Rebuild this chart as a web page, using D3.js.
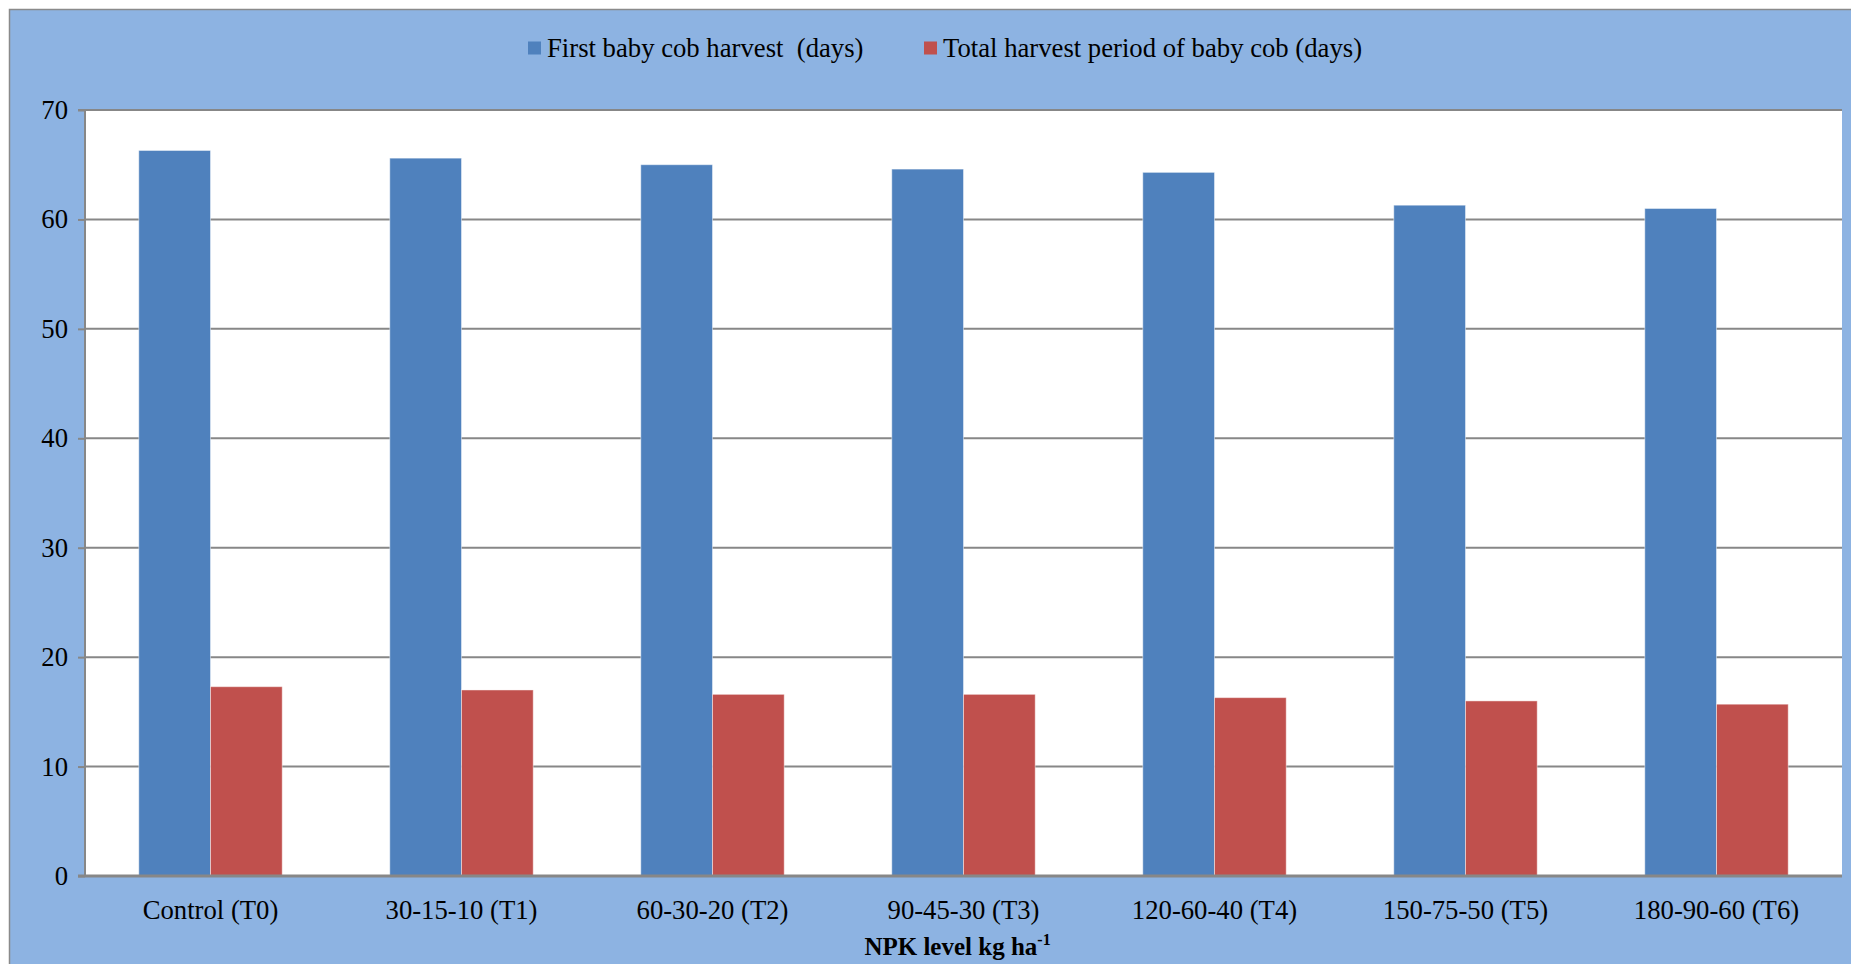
<!DOCTYPE html>
<html>
<head>
<meta charset="utf-8">
<script src="https://cdn.jsdelivr.net/npm/d3@7"></script>
<style>
  html, body { margin: 0; padding: 0; background: #ffffff; }
  svg { display: block; }
  text { font-family: "Liberation Serif", "Times New Roman", serif !important; fill: #000; }
</style>
</head>
<body>
<svg id="chart" width="1851" height="964"></svg>
<script>
// NPK treatment levels (kg/ha)
const categories = [
  "Control (T0)", "30-15-10 (T1)", "60-30-20 (T2)", "90-45-30 (T3)",
  "120-60-40 (T4)", "150-75-50 (T5)", "180-90-60 (T6)"
];
const seriesNames = [
  "First baby cob harvest  (days)",
  "Total harvest period of baby cob (days)"
];
const firstHarvest = [66.3, 65.6, 65.0, 64.6, 64.3, 61.3, 61.0];
const totalHarvestPeriod = [17.3, 17.0, 16.6, 16.6, 16.3, 16.0, 15.7];
const yTicks = [0, 10, 20, 30, 40, 50, 60, 70];

const colors = ["#4F81BD", "#C0504D"];
const series = [firstHarvest, totalHarvestPeriod];

const svg = d3.select("#chart");
const W = 1851, H = 964;
const plot = { left: 85, right: 1842, top: 110, bottom: 876 };
const labelSize = 26.7;

// Chart area background with border
svg.append("rect")
  .attr("x", 9.5).attr("y", 9.5)
  .attr("width", W).attr("height", H)
  .attr("fill", "#8DB3E2")
  .attr("stroke", "#8a8a8a").attr("stroke-width", 1.5);

// Plot area
svg.append("rect")
  .attr("x", plot.left).attr("y", plot.top)
  .attr("width", plot.right - plot.left).attr("height", plot.bottom - plot.top)
  .attr("fill", "#ffffff");

const x = d3.scaleBand().domain(categories)
  .range([plot.left, plot.right]).paddingInner(0).paddingOuter(0);
const barW = x.bandwidth() / 3.5;
const xs = d3.scaleBand().domain(d3.range(series.length))
  .range([0, barW * 2]);

const y = d3.scaleLinear().domain([0, 70]).range([plot.bottom, plot.top]);

// Horizontal gridlines
svg.append("g").selectAll("line").data(yTicks.filter(t => t > 0)).join("line")
  .attr("x1", plot.left).attr("x2", plot.right)
  .attr("y1", d => y(d)).attr("y2", d => y(d))
  .attr("stroke", "#878787").attr("stroke-width", 2);

// Bars
const groups = svg.append("g").selectAll("g").data(categories).join("g")
  .attr("transform", c => `translate(${x(c) + (x.bandwidth() - barW * 2) / 2},0)`);

series.forEach((vals, si) => {
  groups.append("rect")
    .attr("x", xs(si))
    .attr("width", xs.bandwidth())
    .attr("y", (c, i) => y(vals[i]))
    .attr("height", (c, i) => y(0) - y(vals[i]))
    .attr("fill", colors[si])
    .attr("stroke", "rgba(255,255,255,0.45)")
    .attr("stroke-width", 1);
});

// Y axis
const yAxis = d3.axisLeft(y).tickValues(yTicks).tickSize(7).tickPadding(10)
  .tickFormat(d3.format("d"));
const gy = svg.append("g").attr("transform", `translate(${plot.left},0)`).call(yAxis);
gy.attr("font-family", null);
gy.select(".domain").attr("stroke", "#878787").attr("stroke-width", 2)
  .attr("d", `M-7,${plot.top}H0V${plot.bottom}`);
gy.selectAll(".tick line").attr("stroke", "#878787").attr("stroke-width", 2);
gy.selectAll(".tick text").style("font-size", labelSize + "px").attr("fill", "#000");

// X axis
const xAxis = d3.axisBottom(x).tickSize(0).tickPadding(24);
const gx = svg.append("g").attr("transform", `translate(0,${plot.bottom})`).call(xAxis);
gx.attr("font-family", null);
gx.select(".domain").attr("stroke", "#878787").attr("stroke-width", 3)
  .attr("d", `M${plot.left - 7},0H${plot.right}`);
gx.selectAll(".tick text").style("font-size", labelSize + "px").attr("fill", "#000");

// X axis title with superscript
const xt = svg.append("text")
  .attr("x", (plot.left + plot.right) / 2 - 6).attr("y", 955)
  .attr("text-anchor", "middle")
  .style("font-size", "25px").attr("font-weight", "bold");
xt.append("tspan").text("NPK level kg ha");
xt.append("tspan").text("-1").style("font-size", "16px").attr("dy", -10);

// Legend
const legendItems = [
  { x: 528, label: seriesNames[0], color: colors[0] },
  { x: 924, label: seriesNames[1], color: colors[1] }
];
const lg = svg.append("g").selectAll("g").data(legendItems).join("g")
  .attr("transform", d => `translate(${d.x},48)`);
lg.append("rect").attr("x", 0).attr("y", -6.5).attr("width", 13).attr("height", 13)
  .attr("fill", d => d.color);
lg.append("text").attr("x", 19).attr("y", 9)
  .style("font-size", labelSize + "px")
  .style("white-space", "pre")
  .text(d => d.label);
</script>
</body>
</html>
